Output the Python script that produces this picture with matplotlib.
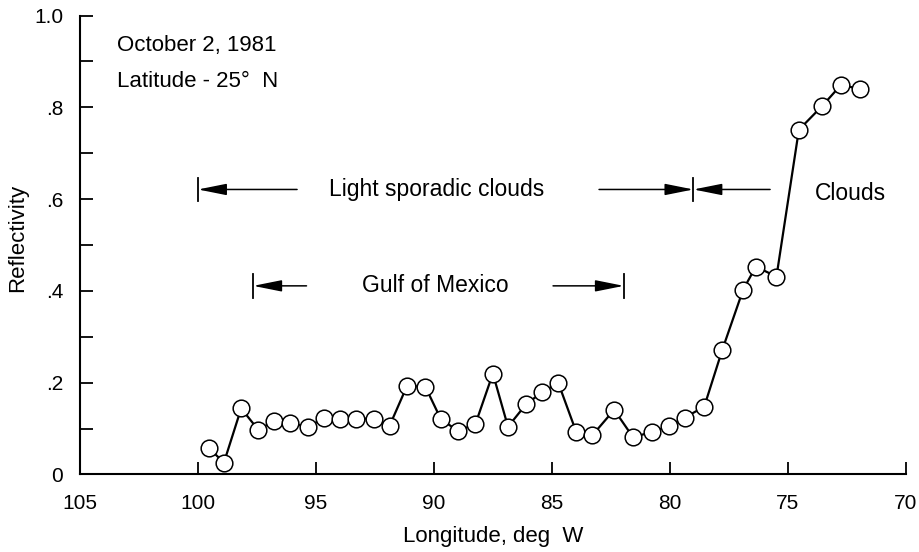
import matplotlib
matplotlib.use('Agg')
import matplotlib.pyplot as plt
import numpy as np

plt.rcParams['font.family'] = ['Liberation Sans', 'DejaVu Sans']

# reflectivity along latitude 25 N
longitude = [99.53, 98.90, 98.17, 97.44, 96.78, 96.10, 95.33, 94.66, 94.00, 93.31,
             92.52, 91.88, 91.14, 90.36, 89.70, 88.97, 88.24, 87.50, 86.86, 86.08,
             85.41, 84.73, 83.97, 83.29, 82.36, 81.57, 80.75, 80.04, 79.36, 78.54,
             77.78, 76.89, 76.35, 75.48, 74.53, 73.54, 72.74, 71.96]
reflectivity = [0.057, 0.026, 0.144, 0.097, 0.117, 0.113, 0.103, 0.124, 0.122, 0.121,
                0.122, 0.106, 0.193, 0.191, 0.120, 0.095, 0.110, 0.220, 0.104, 0.154,
                0.179, 0.200, 0.093, 0.085, 0.141, 0.082, 0.092, 0.106, 0.124, 0.148,
                0.271, 0.403, 0.453, 0.431, 0.751, 0.803, 0.849, 0.840]

x_ticks = [105, 100, 95, 90, 85, 80, 75, 70]
x_tick_labels = ['105', '100', '95', '90', '85', '80', '75', '70']
y_ticks = [0, 0.2, 0.4, 0.6, 0.8, 1.0]
y_tick_labels = ['0', '.2', '.4', '.6', '.8', '1.0']
y_minor = [0.1, 0.3, 0.5, 0.7, 0.9]

# region spans (deg W) and label positions
sporadic_span = (100.0, 79.0)
sporadic_arrow_ends = (95.8, 83.0)
sporadic_y = 0.621
clouds_arrow_end = 75.75
gulf_span = (97.66, 81.95)
gulf_arrow_ends = (95.4, 84.95)
gulf_y = 0.411

fig = plt.figure(figsize=(9.2, 5.52), dpi=100)
ax = fig.add_axes([0.087, 0.1404, 0.8975, 0.8315])

ax.plot(longitude, reflectivity, color='black', linewidth=1.6, marker='o',
        markersize=12, markerfacecolor='white', markeredgecolor='black',
        markeredgewidth=1.1, zorder=3)

ax.set_xlim(105, 70)
ax.set_ylim(0, 1.0)
for side in ['top', 'right']:
    ax.spines[side].set_visible(False)
for side in ['left', 'bottom']:
    ax.spines[side].set_linewidth(1.5)

ax.set_xticks(x_ticks)
ax.set_xticklabels(x_tick_labels)
ax.set_yticks(y_ticks)
ax.set_yticklabels(y_tick_labels)
ax.set_yticks(y_minor, minor=True)
ax.tick_params(axis='both', which='both', direction='in', length=9, width=1.3,
               labelsize=15)
ax.tick_params(axis='x', pad=14)
ax.tick_params(axis='y', pad=12)

ax.set_xlabel('Longitude, deg  W', fontsize=16)
ax.xaxis.set_label_coords(0.5, -0.136)
ax.xaxis.label.set_va('center')
ax.set_ylabel('Reflectivity', fontsize=16)
ax.yaxis.set_label_coords(-0.075, 0.515)
ax.yaxis.label.set_va('center')

ax.text(0.045, 0.935, 'October 2, 1981', transform=ax.transAxes, fontsize=16,
        va='center', ha='left')
ax.text(0.045, 0.857, 'Latitude - 25°  N', transform=ax.transAxes, fontsize=16,
        va='center', ha='left')

arrow_kw = dict(arrowstyle='-|>,head_length=1.25,head_width=0.25', color='black',
                lw=1.1, shrinkA=0, shrinkB=0, mutation_scale=14)


def span_marker(xpos, ypos, half=0.026):
    ax.plot([xpos, xpos], [ypos - half, ypos + half], color='black', lw=1.3)


def arrow(tail, tip, ypos):
    ax.annotate('', xy=(tip, ypos), xytext=(tail, ypos), arrowprops=arrow_kw)


# light sporadic clouds
span_marker(sporadic_span[0], sporadic_y)
span_marker(sporadic_span[1], sporadic_y)
arrow(sporadic_arrow_ends[0], sporadic_span[0], sporadic_y)
arrow(sporadic_arrow_ends[1], sporadic_span[1], sporadic_y)
ax.text(np.mean(sporadic_span) + 0.4, sporadic_y, 'Light sporadic clouds',
        fontsize=16.5, ha='center', va='center')

# clouds
arrow(clouds_arrow_end, sporadic_span[1], sporadic_y)
ax.text(72.36, sporadic_y - 0.008, 'Clouds', fontsize=16.5, ha='center', va='center')

# gulf of mexico
span_marker(gulf_span[0], gulf_y)
span_marker(gulf_span[1], gulf_y)
arrow(gulf_arrow_ends[0], gulf_span[0], gulf_y)
arrow(gulf_arrow_ends[1], gulf_span[1], gulf_y)
ax.text(np.mean(gulf_span) + 0.15, gulf_y, 'Gulf of Mexico', fontsize=16.5,
        ha='center', va='center')

fig.savefig('out.png', dpi=100)
